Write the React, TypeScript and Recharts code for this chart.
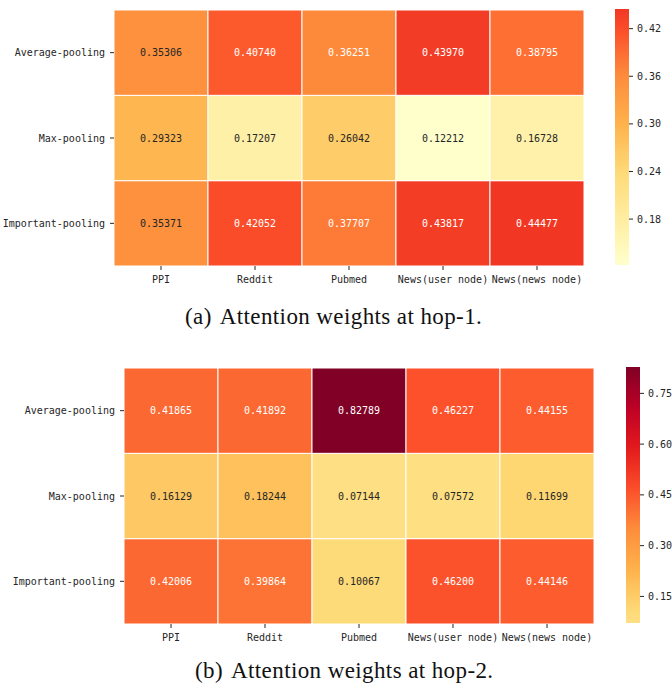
import React from "react";
import { BarChart, Bar, Cell, XAxis, YAxis } from "recharts";

const datasets = ["PPI", "Reddit", "Pubmed", "News(user node)", "News(news node)"];
const poolings = ["Average-pooling", "Max-pooling", "Important-pooling"];

const hop1Average = [0.35306, 0.4074, 0.36251, 0.4397, 0.38795];
const hop1Max = [0.29323, 0.17207, 0.26042, 0.12212, 0.16728];
const hop1Important = [0.35371, 0.42052, 0.37707, 0.43817, 0.44477];
const hop1Ticks = [0.18, 0.24, 0.3, 0.36, 0.42];

const hop2Average = [0.41865, 0.41892, 0.82789, 0.46227, 0.44155];
const hop2Max = [0.16129, 0.18244, 0.07144, 0.07572, 0.11699];
const hop2Important = [0.42006, 0.39864, 0.10067, 0.462, 0.44146];
const hop2Ticks = [0.15, 0.3, 0.45, 0.6, 0.75];

// YlOrRd
const YLORRD = ["#ffffcc", "#ffeda0", "#fed976", "#feb24c", "#fd8d3c", "#fc4e2a", "#e31a1c", "#bd0026", "#800026"];

const FONT = "'DejaVu Sans Mono', monospace";
const DARK = "#262626";

function hexToRgb(h: string) {
  return [parseInt(h.slice(1, 3), 16), parseInt(h.slice(3, 5), 16), parseInt(h.slice(5, 7), 16)];
}

function cmapRgb(t: number) {
  const c = Math.max(0, Math.min(1, t)) * (YLORRD.length - 1);
  const i = Math.min(Math.floor(c), YLORRD.length - 2);
  const f = c - i;
  const a = hexToRgb(YLORRD[i]);
  const b = hexToRgb(YLORRD[i + 1]);
  return a.map((v, k) => Math.round(v + (b[k] - v) * f));
}

function rgbStr(rgb: number[]) {
  return `rgb(${rgb[0]},${rgb[1]},${rgb[2]})`;
}

function luminance(rgb: number[]) {
  const lin = rgb.map((v) => {
    const c = v / 255;
    return c <= 0.03928 ? c / 12.92 : Math.pow((c + 0.055) / 1.055, 2.4);
  });
  return 0.2126 * lin[0] + 0.7152 * lin[1] + 0.0722 * lin[2];
}

interface HeatmapProps {
  id: string;
  average: number[];
  max: number[];
  important: number[];
  ticks: number[];
  cmapRange: [number, number];
  top: number;
  yAxisWidth: number;
  width: number;
  cbLeft: number;
}

function Heatmap(p: HeatmapProps) {
  const all = [...p.average, ...p.max, ...p.important];
  const vmin = Math.min(...all);
  const vmax = Math.max(...all);
  const toRgb = (v: number) =>
    cmapRgb(p.cmapRange[0] + ((v - vmin) / (vmax - vmin)) * (p.cmapRange[1] - p.cmapRange[0]));

  const data = datasets.map((name, i) => ({
    name,
    imp: 1,
    max: 1,
    avg: 1,
    impV: p.important[i],
    maxV: p.max[i],
    avgV: p.average[i],
  }));

  const rowFormatter = (v: number) => (v > 2 ? poolings[0] : v > 1 ? poolings[1] : poolings[2]);

  const makeLabel = (key: string) => (props: any) => {
    const { x, y, width, height, index } = props;
    const v = (data[index] as any)[key] as number;
    const rgb = toRgb(v);
    const fill = luminance(rgb) > 0.408 ? DARK : "#ffffff";
    return (
      <text
        x={x + width / 2}
        y={y + height / 2}
        textAnchor="middle"
        dominantBaseline="central"
        fontSize={10}
        fontFamily={FONT}
        fill={fill}
      >
        {v.toFixed(5)}
      </text>
    );
  };

  const rows: Array<[string, number[]]> = [
    ["imp", p.important],
    ["max", p.max],
    ["avg", p.average],
  ];

  const stops = Array.from({ length: 41 }, (_, k) => k / 40);

  return (
    <>
      <div style={{ position: "absolute", left: 0, top: p.top }}>
        <BarChart
          width={p.width}
          height={300}
          data={data}
          barCategoryGap={0}
          barGap={0}
          margin={{ top: 10, right: p.width - p.yAxisWidth - 470, bottom: 4, left: 0 }}
        >
          <XAxis
            dataKey="name"
            height={30}
            axisLine={false}
            tickSize={4}
            tickMargin={6}
            tickLine={{ stroke: DARK }}
            tick={{ fill: DARK, fontSize: 10, fontFamily: FONT }}
            interval={0}
          />
          <YAxis
            type="number"
            domain={[0, 3]}
            ticks={[0.5, 1.5, 2.5]}
            width={p.yAxisWidth}
            axisLine={false}
            tickSize={4}
            tickMargin={5}
            tickLine={{ stroke: DARK }}
            tick={{ fill: DARK, fontSize: 10, fontFamily: FONT }}
            tickFormatter={rowFormatter}
          />
          {rows.map(([key, vals]) => (
            <Bar
              key={key}
              dataKey={key}
              stackId="s"
              isAnimationActive={false}
              stroke="#ffffff"
              strokeWidth={1}
              label={makeLabel(key + "V")}
            >
              {vals.map((v, i) => (
                <Cell key={i} fill={rgbStr(toRgb(v))} />
              ))}
            </Bar>
          ))}
        </BarChart>
      </div>
      <div style={{ position: "absolute", left: p.cbLeft - 10, top: p.top - 1 }}>
        <BarChart
          width={70}
          height={300}
          data={[{ name: "cb", range: [vmin, vmax] }]}
          barCategoryGap={0}
          margin={{ top: 10, right: 0, bottom: 34, left: 10 }}
        >
          <defs>
            <linearGradient id={`grad-${p.id}`} x1="0" y1="1" x2="0" y2="0">
              {stops.map((s) => (
                <stop
                  key={s}
                  offset={`${s * 100}%`}
                  stopColor={rgbStr(cmapRgb(p.cmapRange[0] + s * (p.cmapRange[1] - p.cmapRange[0])))}
                />
              ))}
            </linearGradient>
          </defs>
          <XAxis dataKey="name" hide height={0} />
          <YAxis
            type="number"
            orientation="right"
            domain={[vmin, vmax]}
            ticks={p.ticks}
            allowDataOverflow
            width={46}
            axisLine={false}
            tickSize={4}
            tickMargin={4}
            tickLine={{ stroke: DARK }}
            tick={{ fill: DARK, fontSize: 10, fontFamily: FONT, textAnchor: "start" }}
            tickFormatter={(v: number) => v.toFixed(2)}
          />
          <Bar dataKey="range" fill={`url(#grad-${p.id})`} isAnimationActive={false} />
        </BarChart>
      </div>
    </>
  );
}

const captionStyle: React.CSSProperties = {
  position: "absolute",
  fontFamily: "'Liberation Serif', serif",
  fontSize: 23,
  lineHeight: "23px",
  letterSpacing: "0.4px",
  whiteSpace: "nowrap",
  color: "#111",
};

export default function App() {
  return (
    <div style={{ position: "absolute", left: 0, top: 0, width: 672, height: 688, background: "#fff" }}>
      <Heatmap
        id="a"
        average={hop1Average}
        max={hop1Max}
        important={hop1Important}
        ticks={hop1Ticks}
        cmapRange={[0, 0.68]}
        top={0}
        yAxisWidth={114}
        width={600}
        cbLeft={615}
      />
      <div style={{ ...captionStyle, left: 185, top: 305 }}>
        (a)<span style={{ marginLeft: 8 }}>Attention weights at hop-1.</span>
      </div>
      <Heatmap
        id="b"
        average={hop2Average}
        max={hop2Max}
        important={hop2Important}
        ticks={hop2Ticks}
        cmapRange={[0.21, 1]}
        top={358}
        yAxisWidth={124}
        width={610}
        cbLeft={626}
      />
      <div style={{ ...captionStyle, left: 195, top: 659 }}>
        (b)<span style={{ marginLeft: 8 }}>Attention weights at hop-2.</span>
      </div>
    </div>
  );
}
